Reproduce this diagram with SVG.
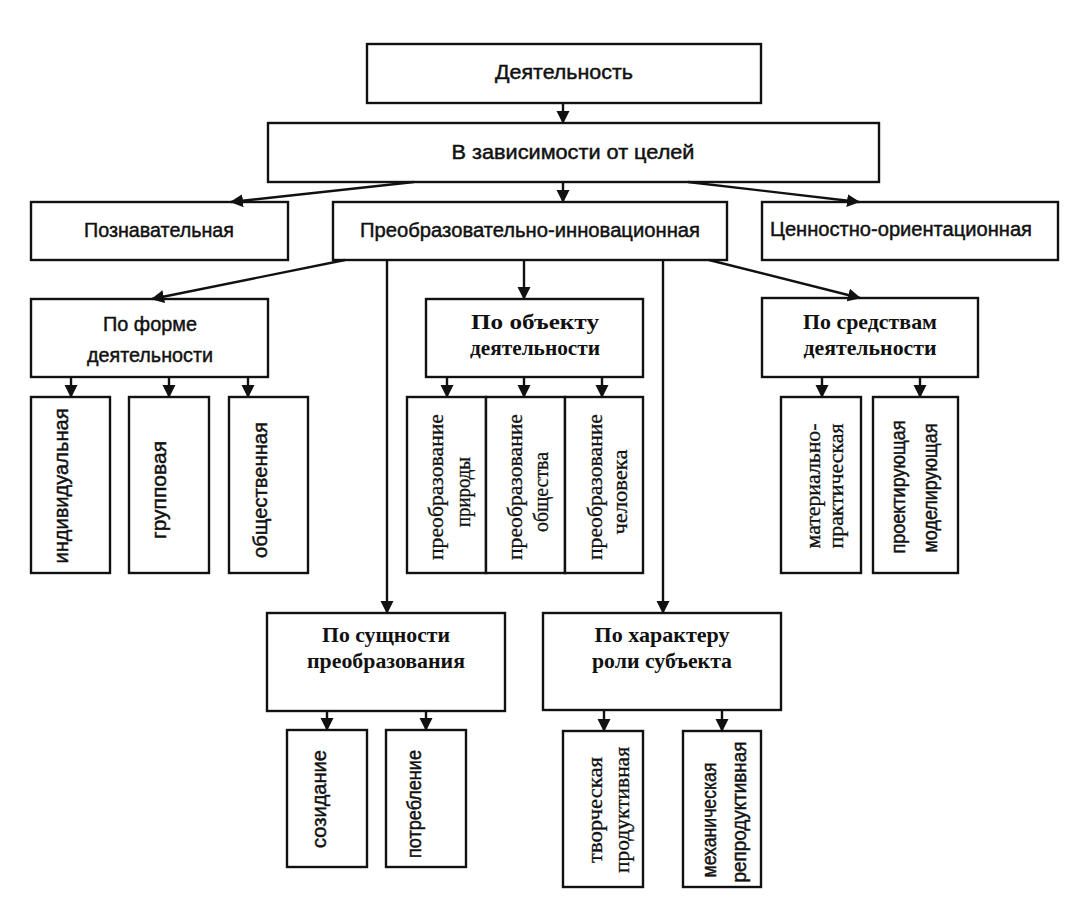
<svg xmlns="http://www.w3.org/2000/svg" width="1080" height="899" viewBox="0 0 1080 899">
<style>
rect.b{fill:#fff;stroke:#111;stroke-width:2.4}
.s{font-family:"Liberation Sans",Arial,sans-serif;font-size:20px;fill:#111;stroke:#111;stroke-width:0.45;text-anchor:middle}
.t{font-family:"Liberation Serif","Times New Roman",serif;font-size:21px;font-weight:bold;fill:#111;text-anchor:middle}
.tv{font-family:"Liberation Serif","Times New Roman",serif;font-size:20px;fill:#111;stroke:#111;stroke-width:0.3;text-anchor:middle}
.c line{stroke:#111;stroke-width:2.4;marker-end:url(#ah)}
</style>
<defs>
<marker id="ah" markerUnits="userSpaceOnUse" markerWidth="14" markerHeight="14" refX="12" refY="7" orient="auto">
<path d="M0,0.5 L13,7 L0,13.5 z" fill="#111"/>
</marker>
</defs>
<rect width="1080" height="899" fill="#fff"/>

<g id="n-deyat"><rect class="b" x="367" y="44" width="394" height="59"/><text class="s" x="564" y="79" textLength="138" lengthAdjust="spacingAndGlyphs">Деятельность</text></g>
<g id="n-celi"><rect class="b" x="268" y="123" width="611" height="59"/><text class="s" x="573" y="159" textLength="243" lengthAdjust="spacingAndGlyphs">В зависимости от целей</text></g>
<g id="n-pozn"><rect class="b" x="31" y="202" width="257" height="58"/><text class="s" x="159" y="237" textLength="150" lengthAdjust="spacingAndGlyphs">Познавательная</text></g>
<g id="n-preob"><rect class="b" x="333" y="202" width="394" height="58"/><text class="s" x="530" y="237" textLength="340" lengthAdjust="spacingAndGlyphs">Преобразовательно-инновационная</text></g>
<g id="n-cenn"><rect class="b" x="762" y="202" width="296" height="58"/><text class="s" x="901" y="236" textLength="262" lengthAdjust="spacingAndGlyphs">Ценностно-ориентационная</text></g>

<g id="n-forma"><rect class="b" x="31" y="299" width="237" height="78"/><text class="s" x="150" y="331" textLength="94" lengthAdjust="spacingAndGlyphs">По форме</text><text class="s" x="150" y="362" textLength="126" lengthAdjust="spacingAndGlyphs">деятельности</text></g>
<g id="n-obekt"><rect class="b" x="426" y="299" width="217" height="78"/><text class="t" x="535" y="329" textLength="128" lengthAdjust="spacingAndGlyphs">По объекту</text><text class="t" x="535" y="355" textLength="130" lengthAdjust="spacingAndGlyphs">деятельности</text></g>
<g id="n-sredstva"><rect class="b" x="762" y="298" width="216" height="79"/><text class="t" x="870" y="329" textLength="134" lengthAdjust="spacingAndGlyphs">По средствам</text><text class="t" x="870" y="355" textLength="133" lengthAdjust="spacingAndGlyphs">деятельности</text></g>

<g id="n-ind"><rect class="b" x="31" y="397" width="79" height="176"/><text class="s" transform="translate(68,486) rotate(-90)" textLength="155" lengthAdjust="spacingAndGlyphs">индивидуальная</text></g>
<g id="n-grup"><rect class="b" x="129" y="397" width="80" height="176"/><text class="s" transform="translate(166,490) rotate(-90)" textLength="98" lengthAdjust="spacingAndGlyphs">групповая</text></g>
<g id="n-obsch"><rect class="b" x="229" y="397" width="79" height="176"/><text class="s" transform="translate(267,490) rotate(-90)" textLength="136" lengthAdjust="spacingAndGlyphs">общественная</text></g>

<g id="n-prir"><rect class="b" x="407" y="397" width="79" height="176"/><text class="tv" transform="translate(443,487) rotate(-90)" textLength="146" lengthAdjust="spacingAndGlyphs">преобразование</text><text class="tv" transform="translate(470,492) rotate(-90)" textLength="70" lengthAdjust="spacingAndGlyphs">природы</text></g>
<g id="n-obsh2"><rect class="b" x="486" y="397" width="79" height="176"/><text class="tv" transform="translate(522,487) rotate(-90)" textLength="146" lengthAdjust="spacingAndGlyphs">преобразование</text><text class="tv" transform="translate(548,492) rotate(-90)" textLength="80" lengthAdjust="spacingAndGlyphs">общества</text></g>
<g id="n-chel"><rect class="b" x="565" y="397" width="78" height="176"/><text class="tv" transform="translate(602,487) rotate(-90)" textLength="146" lengthAdjust="spacingAndGlyphs">преобразование</text><text class="tv" transform="translate(627,492) rotate(-90)" textLength="85" lengthAdjust="spacingAndGlyphs">человека</text></g>

<g id="n-mat"><rect class="b" x="781" y="397" width="80" height="176"/><text class="tv" transform="translate(820,486) rotate(-90)" textLength="125" lengthAdjust="spacingAndGlyphs">материально-</text><text class="tv" transform="translate(843,486) rotate(-90)" textLength="125" lengthAdjust="spacingAndGlyphs">практическая</text></g>
<g id="n-proekt"><rect class="b" x="873" y="397" width="85" height="176"/><text class="s" transform="translate(905,487) rotate(-90)" textLength="133" lengthAdjust="spacingAndGlyphs">проектирующая</text><text class="s" transform="translate(937,488) rotate(-90)" textLength="129" lengthAdjust="spacingAndGlyphs">моделирующая</text></g>

<g id="n-suschn"><rect class="b" x="267" y="613" width="238" height="98"/><text class="t" x="386" y="642" textLength="128" lengthAdjust="spacingAndGlyphs">По сущности</text><text class="t" x="386" y="668" textLength="158" lengthAdjust="spacingAndGlyphs">преобразования</text></g>
<g id="n-harakt"><rect class="b" x="543" y="613" width="238" height="97"/><text class="t" x="662" y="642" textLength="135" lengthAdjust="spacingAndGlyphs">По характеру</text><text class="t" x="662" y="668" textLength="140" lengthAdjust="spacingAndGlyphs">роли субъекта</text></g>

<g id="n-sozid"><rect class="b" x="287" y="730" width="80" height="137"/><text class="s" transform="translate(326,799) rotate(-90)" textLength="98" lengthAdjust="spacingAndGlyphs">созидание</text></g>
<g id="n-potr"><rect class="b" x="386" y="730" width="80" height="137"/><text class="s" transform="translate(421,804) rotate(-90)" textLength="108" lengthAdjust="spacingAndGlyphs">потребление</text></g>
<g id="n-tvor"><rect class="b" x="563" y="731" width="80" height="156"/><text class="tv" transform="translate(602,810) rotate(-90)" textLength="106" lengthAdjust="spacingAndGlyphs">творческая</text><text class="tv" transform="translate(629,810) rotate(-90)" textLength="126" lengthAdjust="spacingAndGlyphs">продуктивная</text></g>
<g id="n-meh"><rect class="b" x="683" y="731" width="78" height="156"/><text class="s" transform="translate(716,820) rotate(-90)" textLength="115" lengthAdjust="spacingAndGlyphs">механическая</text><text class="s" transform="translate(746,812) rotate(-90)" textLength="141" lengthAdjust="spacingAndGlyphs">репродуктивная</text></g>

<g id="connectors" class="c">
<line x1="563" y1="103" x2="563" y2="123"/>
<line x1="563" y1="182" x2="563" y2="202"/>
<line x1="414" y1="182" x2="231" y2="202"/>
<line x1="688" y1="182" x2="859" y2="202"/>
<line x1="345" y1="260" x2="152" y2="299"/>
<line x1="524" y1="260" x2="524" y2="299"/>
<line x1="709" y1="260" x2="860" y2="298"/>
<line x1="387" y1="260" x2="387" y2="613"/>
<line x1="663" y1="260" x2="663" y2="613"/>
<line x1="71" y1="377" x2="71" y2="397"/>
<line x1="169" y1="377" x2="169" y2="397"/>
<line x1="248" y1="377" x2="248" y2="397"/>
<line x1="447" y1="377" x2="447" y2="397"/>
<line x1="524" y1="377" x2="524" y2="397"/>
<line x1="602" y1="377" x2="602" y2="397"/>
<line x1="822" y1="377" x2="822" y2="397"/>
<line x1="920" y1="377" x2="920" y2="397"/>
<line x1="327" y1="711" x2="327" y2="730"/>
<line x1="426" y1="711" x2="426" y2="730"/>
<line x1="604" y1="710" x2="604" y2="731"/>
<line x1="722" y1="710" x2="722" y2="731"/>
</g>
</svg>
